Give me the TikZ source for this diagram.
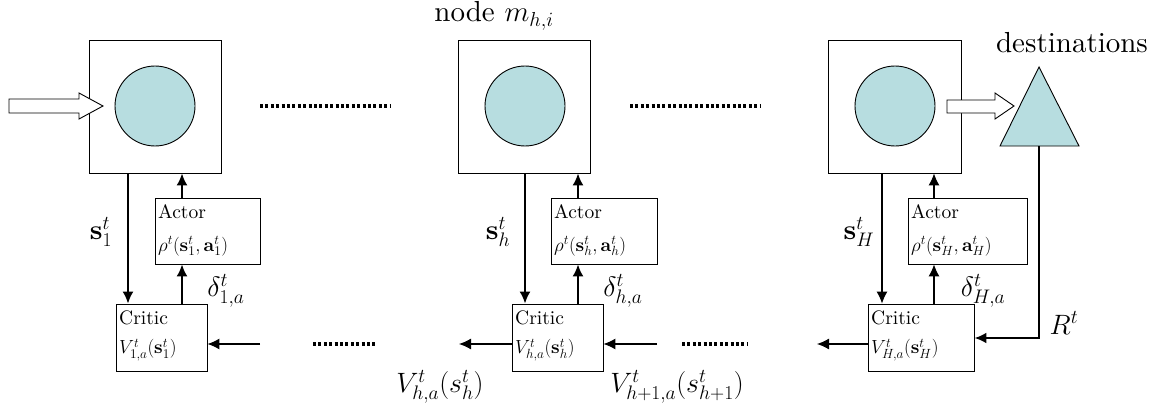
\RequirePackage{fix-cm}
\documentclass[tikz,border=0pt]{standalone}
\usepackage{fontspec}
\setmainfont{lmroman10-regular.otf}[ItalicFont=lmroman10-italic.otf, BoldFont=lmroman10-bold.otf]
\usetikzlibrary{arrows.meta}
\definecolor{nodefill}{RGB}{183,221,224}
\begin{document}
\begin{tikzpicture}[x=1pt,y=-1pt,
  sq/.style={draw, line width=0.9pt, minimum width=132pt, minimum height=133pt, inner sep=0pt},
  dotnode/.style={draw, fill=nodefill, circle, minimum size=80pt, line width=0.9pt, inner sep=0pt},
  abox/.style={draw, line width=0.9pt, inner sep=0pt, minimum height=66pt},
  arr/.style={-{Latex[length=12pt,width=11pt]}, line width=1.8pt},
  arrthin/.style={-{Latex[length=12pt,width=11pt]}, line width=1.1pt},
  hollow/.style={draw, line width=0.9pt, fill=white},
  dots/.style={line width=3.2pt, dash pattern=on 3pt off 2.4pt},
  biglbl/.style={font=\fontsize{28}{30}\selectfont, inner sep=0pt},
  toplbl/.style={font=\fontsize{29}{31}\selectfont, inner sep=0pt},
  inlbl/.style={font=\fontsize{19.5}{21}\selectfont, inner sep=0pt, anchor=west},
  inmath/.style={font=\fontsize{19}{21}\selectfont, inner sep=0pt, anchor=west}
]
\useasboundingbox (0,0) rectangle (1170,412);

% top row: big squares with circles
\node[sq] (b1) at (155,106.5) {};
\node[sq] (b2) at (524,106.5) {};
\node[sq, minimum width=133pt] (b3) at (894.5,106.5) {};
\node[dotnode] (n1) at (155,106) {};
\node[dotnode] (n2) at (525,106) {};
\node[dotnode] (n3) at (895,106) {};

\node[toplbl] (lblm) at (494,16) {node $m_{h,i}$};
\node[toplbl] (lbld) at (1072,43) {destinations};

% destination triangle
\draw[line width=0.9pt, fill=nodefill] (1039,67) -- (1079,146) -- (1000,146) -- cycle;
\coordinate (tri) at (1039,146);

% hollow arrows
\draw[hollow] (9,99) -- (79,99) -- (79,93) -- (103,106) -- (79,119) -- (79,113) -- (9,113) -- cycle;
\draw[hollow] (947,100) -- (995,100) -- (995,93) -- (1014,106) -- (995,119) -- (995,113) -- (947,113) -- cycle;

% dotted separators
\coordinate (d1a) at (260,106); \coordinate (d1b) at (390,106);
\coordinate (d2a) at (630,106); \coordinate (d2b) at (760,106);
\coordinate (d3a) at (313,344); \coordinate (d3b) at (376,344);
\coordinate (d4a) at (682,344); \coordinate (d4b) at (747,344);
\draw[dots] (d1a) -- (d1b);
\draw[dots] (d2a) -- (d2b);
\draw[dots] (d3a) -- (d3b);
\draw[dots] (d4a) -- (d4b);

% actor and critic boxes
\node[abox, minimum width=105pt] (a1) at (207.5,231) {};
\node[abox, minimum width=106pt] (a2) at (604,231) {};
\node[abox, minimum width=119pt] (a3) at (967.5,231) {};
\node[abox, minimum width=91pt, minimum height=67pt] (c1) at (161.5,337.5) {};
\node[abox, minimum width=91pt, minimum height=67pt] (c2) at (557.5,337.5) {};
\node[abox, minimum width=106pt, minimum height=67pt] (c3) at (921,337.5) {};

\node[inlbl] (at1) at (158,212) {Actor};
\node[inmath] (af1) at (158,246) {$\rho^t(\mathbf{s}^t_1,\mathbf{a}^t_1)$};
\node[inlbl] (at2) at (554,212) {Actor};
\node[inmath] (af2) at (554,246) {$\rho^t(\mathbf{s}^t_h,\mathbf{a}^t_h)$};
\node[inlbl] (at3) at (911,212) {Actor};
\node[inmath] (af3) at (911,246) {$\rho^t(\mathbf{s}^t_H,\mathbf{a}^t_H)$};

\node[inlbl] (ct1) at (119,318) {Critic};
\node[inmath] (cf1) at (119,350) {$V^t_{1,a}(\mathbf{s}^t_1)$};
\node[inlbl] (ct2) at (515,318) {Critic};
\node[inmath] (cf2) at (515,350) {$V^t_{h,a}(\mathbf{s}^t_h)$};
\node[inlbl] (ct3) at (871,318) {Critic};
\node[inmath] (cf3) at (871,350) {$V^t_{H,a}(\mathbf{s}^t_H)$};

% state arrows (box -> critic)
\draw[arr] (b1.south -| 128,0) -- (c1.north -| 128,0);
\draw[arr] (b2.south -| 525,0) -- (c2.north -| 525,0);
\draw[arrthin] (b3.south -| 882,0) -- (c3.north -| 882,0);

% critic -> actor -> box
\draw[arr] (c1.north -| 182,0) -- (a1.south -| 182,0);
\draw[arr] (a1.north -| 182,0) -- (b1.south -| 182,0);
\draw[arr] (c2.north -| 578,0) -- (a2.south -| 578,0);
\draw[arr] (a2.north -| 578,0) -- (b2.south -| 578,0);
\draw[arrthin] (c3.north -| 934,0) -- (a3.south -| 934,0);
\draw[arrthin] (a3.north -| 934,0) -- (b3.south -| 934,0);

% horizontal value arrows
\coordinate (in1) at (260,344);
\coordinate (out2) at (459,344);
\coordinate (in2) at (657,344);
\coordinate (out3) at (817,344);
\draw[arrthin] (in1) -- (c1.east |- in1);
\draw[arrthin] (c2.west |- out2) -- (out2);
\draw[arrthin] (in2) -- (c2.east |- in2);
\draw[arrthin] (c3.west |- out3) -- (out3);

% reward arrow
\coordinate (rc) at (1039,338);
\draw[-{Latex[length=12pt,width=11pt]}, line width=2.6pt] (tri) -- (rc) -- (c3.east |- rc);

% labels
\node[biglbl] (ls1) at (101,232) {$\mathbf{s}^t_1$};
\node[biglbl] (ls2) at (498,232) {$\mathbf{s}^t_h$};
\node[biglbl] (ls3) at (859,232) {$\mathbf{s}^t_H$};
\node[biglbl] (ld1) at (226,291) {$\delta^t_{1,a}$};
\node[biglbl] (ld2) at (623,291) {$\delta^t_{h,a}$};
\node[biglbl] (ld3) at (983,291) {$\delta^t_{H,a}$};
\node[biglbl] (lR) at (1064,323) {$R^t$};
\node[biglbl] (lv1) at (440,387) {$V^t_{h,a}(s^t_h)$};
\node[biglbl] (lv2) at (677,387) {$V^t_{h+1,a}(s^t_{h+1})$};
\end{tikzpicture}
\end{document}
